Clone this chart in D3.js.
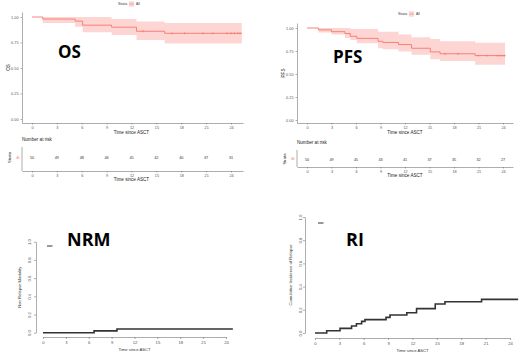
<!DOCTYPE html>
<html>
<head>
<meta charset="utf-8">
<script src="https://cdn.jsdelivr.net/npm/d3@7"></script>
<style>
  body { margin: 0; background: #fff; }
  text { font-family: "Liberation Sans", Arial, sans-serif; }
  .title { font-family: "Open Sans", sans-serif; font-weight: 700; fill: #000; }
</style>
</head>
<body>
<svg width="520" height="363"></svg>
<script>
// ---- data ----
var riskTicks = [0, 3, 6, 9, 12, 15, 18, 21, 24];

// Overall survival (Kaplan-Meier steps)
var osTimes = [0, 1.3, 5.2, 6.1, 9.6, 12.6, 16.0];
var osSurv  = [1.00, 0.98, 0.96, 0.92, 0.90, 0.86, 0.84];
var osUpper = [1.00, 1.00, 1.00, 1.00, 0.98, 0.955, 0.94];
var osLower = [1.00, 0.94, 0.905, 0.85, 0.824, 0.775, 0.74];
var osEnd = 25.3;
var osCensor = [13.4, 16.9, 18.4, 20.6, 21.8, 23.5, 24.0, 24.4, 24.8, 25.1];
var osRisk = [50, 49, 48, 46, 45, 42, 40, 37, 31];

// Progression free survival
var pfsTimes = [0, 1.4, 3.0, 4.65, 5.3, 6.1, 8.7, 9.3, 11.2, 12.8, 15.1, 16.3, 20.6];
var pfsSurv  = [1.00, 0.98, 0.96, 0.94, 0.91, 0.887, 0.855, 0.843, 0.82, 0.78, 0.74, 0.72, 0.70];
var pfsUpper = [1.00, 1.00, 1.00, 1.00, 0.99, 0.99, 0.96, 0.96, 0.93, 0.90, 0.88, 0.855, 0.84];
var pfsLower = [1.00, 0.95, 0.93, 0.89, 0.87, 0.835, 0.78, 0.77, 0.745, 0.71, 0.66, 0.64, 0.60];
var pfsEnd = 24.25;
var pfsCensor = [16.9, 18.5, 21.0, 22.0, 23.3, 23.6, 23.9, 24.2];
var pfsRisk = [50, 49, 45, 43, 41, 37, 35, 32, 27];

// Non relapse mortality (cumulative incidence)
var nrmTimes = [0, 6.7, 9.7];
var nrmValues = [0, 0.02, 0.04];
var nrmEnd = 24.9;

// Relapse incidence
var riTimes  = [0, 1.44, 3.08, 4.5, 5.1, 5.74, 6.15, 8.74, 9.23, 11.3, 12.5, 14.8, 16.0, 20.5];
var riValues = [0, 0.02, 0.04, 0.06, 0.08, 0.10, 0.115, 0.135, 0.155, 0.175, 0.21, 0.25, 0.27, 0.29];
var riEnd = 25.0;

var svg = d3.select('svg');
var red = '#F8766D';

// linear scale pinned by two known ticks, then stretched to the panel edges
function fitScale(d0, d1, r0, r1, lo, hi) {
    var s = d3.scaleLinear().domain([d0, d1]).range([r0, r1]);
    return s.domain([s.invert(lo), s.invert(hi)]).range([lo, hi]);
}

function stepData(times, vals, end) {
    var pts = times.map(function(t, i) { return {t: t, v: vals[i]}; });
    pts.push({t: end, v: vals[vals.length - 1]});
    return pts;
}

// ggplot-like survival panel + risk table
function drawKM(p) {
    var x = fitScale(0, 24, p.x0, p.x24, p.left, p.right);
    var y = fitScale(0, 1, p.y0, p.y1, p.bottom, p.top);
    var g = svg.append('g');

    // legend on top
    var lg = g.append('g').attr('transform', 'translate(' + [p.legX, p.legY] + ')');
    lg.append('text').attr('x', 0).attr('y', 1.2).attr('font-size', 3.4).attr('fill', '#333').text('Strata');
    lg.append('rect').attr('x', 11).attr('y', -2.5).attr('width', 5).attr('height', 5)
        .attr('fill', red).attr('fill-opacity', 0.3).attr('stroke', '#ddd').attr('stroke-width', 0.3);
    lg.append('line').attr('x1', 11.5).attr('x2', 15.5).attr('y1', 0).attr('y2', 0)
        .attr('stroke', red).attr('stroke-width', 0.6);
    lg.append('text').attr('x', 18).attr('y', 1.2).attr('font-size', 3.4).attr('fill', '#333').text('All');

    // confidence band
    var band = p.times.map(function(t, i) { return {t: t, lo: p.lower[i], hi: p.upper[i]}; });
    band.push({t: p.end, lo: p.lower[p.lower.length - 1], hi: p.upper[p.upper.length - 1]});
    g.append('path').datum(band)
        .attr('d', d3.area().curve(d3.curveStepAfter)
            .x(function(d) { return x(d.t); })
            .y0(function(d) { return y(d.lo); })
            .y1(function(d) { return y(d.hi); }))
        .attr('fill', red).attr('fill-opacity', 0.3);

    // survival curve
    g.append('path').datum(stepData(p.times, p.surv, p.end))
        .attr('d', d3.line().curve(d3.curveStepAfter)
            .x(function(d) { return x(d.t); })
            .y(function(d) { return y(d.v); }))
        .attr('fill', 'none').attr('stroke', red).attr('stroke-width', 0.9);

    // censor marks
    g.selectAll('.censor').data(p.censor).enter().append('path')
        .attr('class', 'censor')
        .attr('transform', function(d) {
            var idx = d3.bisectRight(p.times, d) - 1;
            return 'translate(' + [x(d), y(p.surv[Math.max(idx, 0)])] + ')';
        })
        .attr('d', 'M-1,0H1M0,-1V1')
        .attr('stroke', red).attr('stroke-width', 0.6);

    // axes
    var yAxisG = g.append('g').attr('transform', 'translate(' + p.left + ',0)')
        .call(d3.axisLeft(y).tickValues([0, 0.25, 0.5, 0.75, 1]).tickFormat(d3.format('.2f'))
            .tickSize(1.5).tickSizeOuter(0).tickPadding(2));
    var xAxisG = g.append('g').attr('transform', 'translate(0,' + p.bottom + ')')
        .call(d3.axisBottom(x).tickValues(riskTicks).tickSize(1.5).tickSizeOuter(0).tickPadding(2));
    [yAxisG, xAxisG].forEach(function(a) {
        a.attr('font-family', null);
        a.selectAll('text').attr('font-size', 3.8).attr('fill', '#555');
        a.selectAll('line, path').attr('stroke', '#777').attr('stroke-width', 0.6);
    });
    g.append('text').attr('x', (p.x0 + p.x24) / 2).attr('y', p.bottom + 11)
        .attr('text-anchor', 'middle').attr('font-size', 4.6).attr('fill', '#222').text('Time since ASCT');
    g.append('text').attr('transform', 'translate(' + [p.left - 12, (p.top + p.bottom) / 2] + ') rotate(-90)')
        .attr('text-anchor', 'middle').attr('font-size', 4.6).attr('fill', '#222').text(p.ylab);

    // big panel title
    g.append('text').attr('class', 'title').attr('x', p.titleX).attr('y', p.titleY)
        .attr('font-size', 17).text(p.title);

    // number at risk table
    var t = p.table;
    g.append('text').attr('x', p.left).attr('y', t.head).attr('font-size', 4.6).attr('fill', '#222')
        .text('Number at risk');
    g.selectAll('.risk').data(p.risk).enter().append('text')
        .attr('x', function(d, i) { return x(riskTicks[i]); })
        .attr('y', t.row + 1.5)
        .attr('text-anchor', 'middle').attr('font-size', 3.8).attr('fill', '#333')
        .text(function(d) { return d; });
    g.append('line').attr('x1', p.left).attr('x2', p.left).attr('y1', t.top).attr('y2', t.bottom)
        .attr('stroke', '#777').attr('stroke-width', 0.6);
    g.append('text').attr('x', p.left - 2.5).attr('y', t.row + 1.2).attr('text-anchor', 'end')
        .attr('font-size', 2.6).attr('fill', red).text('All');
    g.append('text').attr('transform', 'translate(' + [p.left - 11, t.row] + ') rotate(-90)')
        .attr('text-anchor', 'middle').attr('font-size', 4.2).attr('fill', '#222').text('Strata');
    var tAxisG = g.append('g').attr('transform', 'translate(0,' + t.bottom + ')')
        .call(d3.axisBottom(x).tickValues(riskTicks).tickSize(1.5).tickSizeOuter(0).tickPadding(2));
    tAxisG.attr('font-family', null);
    tAxisG.selectAll('text').attr('font-size', 3.8).attr('fill', '#555');
    tAxisG.selectAll('line, path').attr('stroke', '#777').attr('stroke-width', 0.6);
    g.append('text').attr('x', (p.x0 + p.x24) / 2).attr('y', t.bottom + 10)
        .attr('text-anchor', 'middle').attr('font-size', 4.6).attr('fill', '#222').text('Time since ASCT');
}

// base-R-like cumulative incidence panel
function drawCI(p) {
    var x = d3.scaleLinear().domain([0, 24]).range([p.x0, p.x24]);
    var y = d3.scaleLinear().domain([0, 1]).range([p.y0, p.y1]);
    var g = svg.append('g');

    g.append('path').datum(stepData(p.times, p.values, p.end))
        .attr('d', d3.line().curve(d3.curveStepAfter)
            .x(function(d) { return x(d.t); })
            .y(function(d) { return y(d.v); }))
        .attr('fill', 'none').attr('stroke', '#333').attr('stroke-width', 1.6);

    var yAxisG = g.append('g').attr('transform', 'translate(' + p.axisX + ',0)')
        .call(d3.axisLeft(y).tickValues([0, 0.2, 0.4, 0.6, 0.8, 1]).tickFormat(d3.format('.1f'))
            .tickSize(2).tickSizeOuter(0));
    yAxisG.selectAll('text')
        .attr('x', 0).attr('dy', 0).attr('text-anchor', 'middle')
        .attr('transform', 'translate(' + p.labOff + ',0) rotate(-90)');
    var xAxisG = g.append('g').attr('transform', 'translate(0,' + p.axisY + ')')
        .call(d3.axisBottom(x).tickValues(riskTicks).tickSize(2).tickSizeOuter(0).tickPadding(2));
    [yAxisG, xAxisG].forEach(function(a) {
        a.attr('font-family', null);
        a.selectAll('text').attr('font-size', 4.2).attr('fill', '#555');
        a.selectAll('line, path').attr('stroke', '#777').attr('stroke-width', 0.6);
    });
    g.append('text').attr('x', (p.x0 + p.x24) / 2).attr('y', p.axisY + 14)
        .attr('text-anchor', 'middle').attr('font-size', 4.2).attr('fill', '#333').text('Time since ASCT');
    g.append('text').attr('transform', 'translate(' + [p.ylabX, (p.y0 + p.y1) / 2] + ') rotate(-90)')
        .attr('text-anchor', 'middle').attr('font-size', 4.2).attr('fill', '#333').text(p.ylab);

    // empty legend: only the key line
    g.append('line').attr('x1', p.legX).attr('x2', p.legX + 5.5).attr('y1', p.legY).attr('y2', p.legY)
        .attr('stroke', '#333').attr('stroke-width', 1);

    g.append('text').attr('class', 'title').attr('x', p.titleX).attr('y', p.titleY)
        .attr('font-size', 18).text(p.title);
}

drawKM({
    times: osTimes, surv: osSurv, upper: osUpper, lower: osLower, end: osEnd,
    censor: osCensor, risk: osRisk, ylab: 'OS', title: 'OS',
    x0: 32, x24: 231, left: 22, right: 243,
    y0: 119, y1: 17, top: 12, bottom: 123,
    legX: 118, legY: 4, titleX: 58, titleY: 58,
    table: {head: 141, row: 157.5, top: 147, bottom: 171}
});

drawKM({
    times: pfsTimes, surv: pfsSurv, upper: pfsUpper, lower: pfsLower, end: pfsEnd,
    censor: pfsCensor, risk: pfsRisk, ylab: 'PFS', title: 'PFS',
    x0: 307, x24: 503, left: 297, right: 513,
    y0: 120, y1: 28, top: 23, bottom: 123,
    legX: 398, legY: 14, titleX: 333, titleY: 63,
    table: {head: 144, row: 159, top: 150, bottom: 167}
});

drawCI({
    times: nrmTimes, values: nrmValues, end: nrmEnd,
    ylab: 'Non Relapse Mortality', title: 'NRM',
    x0: 43, x24: 226, y0: 332.7, y1: 241.7,
    axisX: 36, axisY: 337, labOff: -5, ylabX: 21,
    legX: 47, legY: 246, titleX: 67, titleY: 246
});

drawCI({
    times: riTimes, values: riValues, end: riEnd,
    ylab: 'Cumulative Incidence of Relapse', title: 'RI',
    x0: 315, x24: 510, y0: 333, y1: 217,
    axisX: 305, axisY: 338, labOff: -3.5, ylabX: 292,
    legX: 318, legY: 223, titleX: 346, titleY: 246
});
</script>
</body>
</html>
